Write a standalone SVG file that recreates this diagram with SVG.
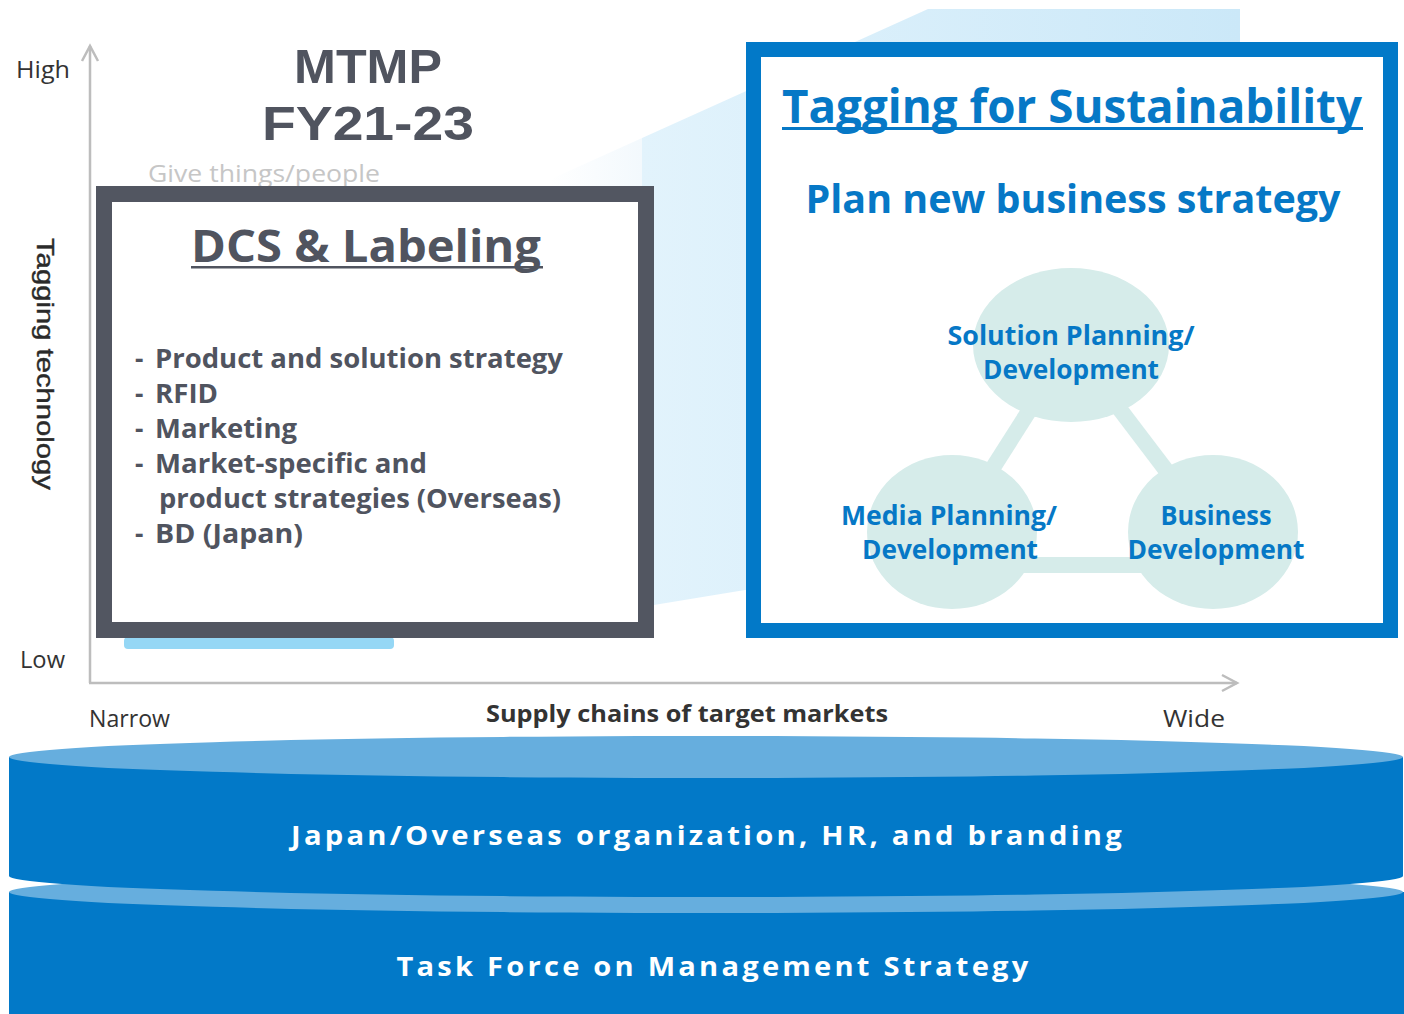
<svg xmlns="http://www.w3.org/2000/svg" width="1404" height="1014" viewBox="0 0 1404 1014">
  <defs>
    <linearGradient id="bgGrad" gradientUnits="userSpaceOnUse" x1="549" y1="0" x2="1240" y2="0">
      <stop offset="0" stop-color="#ffffff"/>
      <stop offset="0.134" stop-color="#f3f9fd"/>
      <stop offset="0.135" stop-color="#e2f3fc"/>
      <stop offset="1" stop-color="#cbe8f8"/>
    </linearGradient>
    <marker id="chev" viewBox="0 0 20 20" refX="16" refY="10" markerWidth="20" markerHeight="20" markerUnits="userSpaceOnUse" orient="auto">
      <path d="M1,2 L16,10 L1,18" fill="none" stroke="#bdbdbd" stroke-width="2.5"/>
    </marker>
    <style>
      .axis { stroke: #bdbdbd; stroke-width: 2.5; fill: none; }
      .axlbl { font-family: "Open Sans", "Liberation Sans", sans-serif; font-size: 23px; fill: #333333; }
      .gray { font-family: "Open Sans", "Liberation Sans", sans-serif; font-weight: 700; fill: #50545f; }
      .title { font-family: "Liberation Sans", Arial, sans-serif; font-weight: 700; fill: #50545f; }
      .blue { font-family: "Open Sans", "Liberation Sans", sans-serif; font-weight: 700; fill: #0678c6; }
      .item { font-family: "Open Sans", "Liberation Sans", sans-serif; font-weight: 700; font-size: 26px; fill: #50545f; }
      .circ { fill: #d6ecea; }
      .conn { stroke: #d6ecea; stroke-width: 16; fill: none; }
      .cyltop { fill: #66aede; }
      .cylbody { fill: #0279c8; }
      .cyltxt { font-family: "Open Sans", "Liberation Sans", sans-serif; font-weight: 700; font-size: 27px; fill: #ffffff; letter-spacing: 3px; }
    </style>
  </defs>

  <rect x="0" y="0" width="1404" height="1014" fill="#ffffff"/>

  <!-- background staircase shape -->
  <g id="background">
    <polygon points="549,180 928,9 1240,9 1240,600 745,590 393,648 393,600 549,600" fill="url(#bgGrad)"/>
    <rect x="124" y="637" width="270" height="12" rx="4" fill="#95d7f5"/>
  </g>

  <!-- axes -->
  <g id="axes">
    <line class="axis" x1="90" y1="683" x2="90" y2="46" marker-end="url(#chev)"/>
    <line class="axis" x1="89" y1="683" x2="1237" y2="683" marker-end="url(#chev)"/>
    <text class="axlbl" x="16" y="78" textLength="54" lengthAdjust="spacingAndGlyphs">High</text>
    <text class="axlbl" x="20" y="668" textLength="45" lengthAdjust="spacingAndGlyphs">Low</text>
    <text class="axlbl" x="89" y="727" textLength="81" lengthAdjust="spacingAndGlyphs">Narrow</text>
    <text class="axlbl" x="1163" y="727" textLength="62" lengthAdjust="spacingAndGlyphs">Wide</text>
    <text x="687" y="722" text-anchor="middle" font-family="Open Sans, Liberation Sans, sans-serif" font-weight="700" font-size="24" fill="#333333" textLength="402" lengthAdjust="spacingAndGlyphs">Supply chains of target markets</text>
    <text transform="translate(37,364) rotate(90)" text-anchor="middle" font-family="Liberation Sans, Arial, sans-serif" font-size="24" fill="#2a2a2a" stroke="#2a2a2a" stroke-width="0.4" textLength="252" lengthAdjust="spacingAndGlyphs">Tagging technology</text>
  </g>

  <!-- title -->
  <g id="title">
    <text class="title" x="368" y="83" text-anchor="middle" font-size="48" textLength="148" lengthAdjust="spacingAndGlyphs">MTMP</text>
    <text class="title" x="368" y="140" text-anchor="middle" font-size="48" textLength="212" lengthAdjust="spacingAndGlyphs">FY21-23</text>
    <text x="148" y="182" font-family="Open Sans, Liberation Sans, sans-serif" font-size="24" fill="#c6c6c6" textLength="232" lengthAdjust="spacingAndGlyphs">Give things/people</text>
  </g>

  <!-- DCS & Labeling node -->
  <g id="dcs-labeling">
    <rect x="104" y="194" width="542" height="436" fill="#ffffff" stroke="#525661" stroke-width="16"/>
    <text class="gray" x="366" y="262" text-anchor="middle" font-size="45" textLength="350" lengthAdjust="spacingAndGlyphs">DCS &amp; Labeling</text>
    <rect x="191" y="266" width="352" height="2.5" fill="#50545f"/>
    <text class="item" x="135" y="368">-</text>
    <text class="item" x="155" y="368" textLength="408" lengthAdjust="spacingAndGlyphs">Product and solution strategy</text>
    <text class="item" x="135" y="403">-</text>
    <text class="item" x="155" y="403" textLength="63" lengthAdjust="spacingAndGlyphs">RFID</text>
    <text class="item" x="135" y="438">-</text>
    <text class="item" x="155" y="438" textLength="142" lengthAdjust="spacingAndGlyphs">Marketing</text>
    <text class="item" x="135" y="473">-</text>
    <text class="item" x="155" y="473" textLength="272" lengthAdjust="spacingAndGlyphs">Market-specific and</text>
    <text class="item" x="159" y="508" textLength="402" lengthAdjust="spacingAndGlyphs">product strategies (Overseas)</text>
    <text class="item" x="135" y="543">-</text>
    <text class="item" x="155" y="543" textLength="148" lengthAdjust="spacingAndGlyphs">BD (Japan)</text>
  </g>

  <!-- Tagging for Sustainability node -->
  <g id="tagging-sustainability">
    <rect x="753.5" y="49.5" width="637" height="581" fill="#ffffff" stroke="#0279c8" stroke-width="15"/>
    <text class="blue" x="1072" y="123" text-anchor="middle" font-size="46" textLength="580" lengthAdjust="spacingAndGlyphs">Tagging for Sustainability</text>
    <rect x="782" y="127" width="581" height="3" fill="#0678c6"/>
    <text class="blue" x="1073" y="213" text-anchor="middle" font-size="40" textLength="535" lengthAdjust="spacingAndGlyphs">Plan new business strategy</text>
  </g>

  <!-- connectors -->
  <g id="connectors">
    <line class="conn" x1="1071" y1="345" x2="952" y2="532"/>
    <line class="conn" x1="1071" y1="345" x2="1213" y2="532"/>
    <line class="conn" x1="952" y1="565" x2="1213" y2="565"/>
  </g>

  <g id="solution-planning">
    <ellipse class="circ" cx="1071" cy="345" rx="98" ry="77"/>
    <text class="blue" x="1071" y="345" text-anchor="middle" font-size="26" textLength="247" lengthAdjust="spacingAndGlyphs">Solution Planning/</text>
    <text class="blue" x="1071" y="379" text-anchor="middle" font-size="26" textLength="176" lengthAdjust="spacingAndGlyphs">Development</text>
  </g>
  <g id="media-planning">
    <ellipse class="circ" cx="952" cy="532" rx="85" ry="77"/>
    <text class="blue" x="949" y="525" text-anchor="middle" font-size="26" textLength="216" lengthAdjust="spacingAndGlyphs">Media Planning/</text>
    <text class="blue" x="950" y="559" text-anchor="middle" font-size="26" textLength="176" lengthAdjust="spacingAndGlyphs">Development</text>
  </g>
  <g id="business-development">
    <ellipse class="circ" cx="1213" cy="532" rx="85" ry="77"/>
    <text class="blue" x="1216" y="525" text-anchor="middle" font-size="26" textLength="111" lengthAdjust="spacingAndGlyphs">Business</text>
    <text class="blue" x="1216" y="559" text-anchor="middle" font-size="26" textLength="177" lengthAdjust="spacingAndGlyphs">Development</text>
  </g>

  <!-- cylinders -->
  <g id="task-force">
    <path class="cylbody" d="M9,892 L9,1040 L1404,1040 L1404,892 Z"/>
    <ellipse class="cyltop" cx="706" cy="892" rx="697" ry="21"/>
    <text class="cyltxt" x="714" y="976" text-anchor="middle" textLength="635" lengthAdjust="spacingAndGlyphs">Task Force on Management Strategy</text>
  </g>
  <g id="japan-overseas">
    <path class="cylbody" d="M9,757 L9,876 A697,21 0 0 0 1403,876 L1403,757 Z"/>
    <ellipse class="cyltop" cx="706" cy="757" rx="697" ry="21"/>
    <text class="cyltxt" x="708" y="845" text-anchor="middle" textLength="834" lengthAdjust="spacingAndGlyphs">Japan/Overseas organization, HR, and branding</text>
  </g>
</svg>
